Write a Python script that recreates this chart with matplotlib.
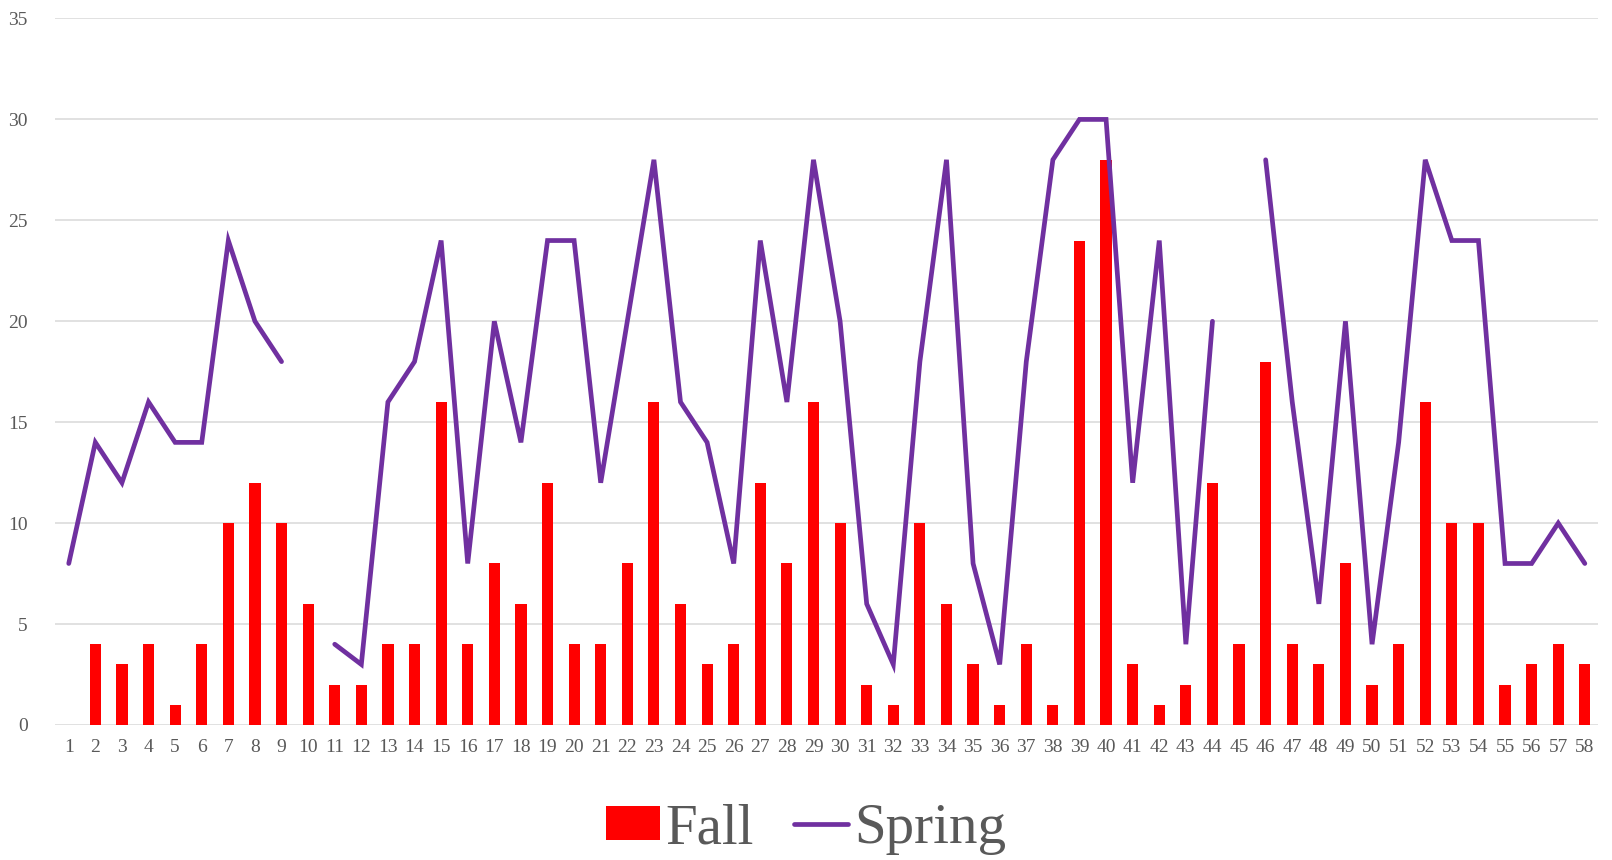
import matplotlib.pyplot as plt
import numpy as np

# Weeks 1..58, Fall counts as bars, Spring counts as a line (gaps where missing)
weeks = list(range(1, 59))
fall = [0, 4, 3, 4, 1, 4, 10, 12, 10, 6,
        2, 2, 4, 4, 16, 4, 8, 6, 12, 4,
        4, 8, 16, 6, 3, 4, 12, 8, 16, 10,
        2, 1, 10, 6, 3, 1, 4, 1, 24, 28,
        3, 1, 2, 12, 4, 18, 4, 3, 8, 2,
        4, 16, 10, 10, 2, 3, 4, 3]
spring = [8, 14, 12, 16, 14, 14, 24, 20, 18, np.nan,
          4, 3, 16, 18, 24, 8, 20, 14, 24, 24,
          12, 20, 28, 16, 14, 8, 24, 16, 28, 20,
          6, 3, 18, 28, 8, 3, 18, 28, 30, 30,
          12, 24, 4, 20, np.nan, 28, 16, 6, 20, 4,
          14, 28, 24, 24, 8, 8, 10, 8]

plt.rcParams['font.family'] = ['Liberation Serif', 'DejaVu Serif']

fig = plt.figure(figsize=(16.12, 8.6), dpi=100)
ax = fig.add_axes([0.0344, 0.157, 0.957, 0.8215])

x = np.arange(len(weeks))
bars = ax.bar(x, fall, width=0.42, color='#FF0000', label='Fall', zorder=2)
line, = ax.plot(x, spring, color='#7030A0', lw=3.4, label='Spring', zorder=3,
                solid_capstyle='round', solid_joinstyle='miter')

ax.set_xlim(-0.5, len(weeks) - 0.5)
ax.set_ylim(0, 35)
ax.set_yticks(range(0, 36, 5))
ax.set_xticks(x)
ax.set_xticklabels([str(w) for w in weeks])

ax.grid(axis='y', color='#D9D9D9', lw=1.1, zorder=0)
ax.set_axisbelow(True)
for s in ax.spines.values():
    s.set_visible(False)
ax.tick_params(length=0, labelsize=14, colors='#595959', pad=10)
ax.tick_params(axis='y', pad=20)

leg = fig.legend([bars, line], ['Fall', 'Spring'], loc='center',
                 bbox_to_anchor=(0.5, 0.036), ncol=2, frameon=False,
                 fontsize=41, handlelength=0.95, handleheight=0.55,
                 handletextpad=0.1, columnspacing=0.7)
for t in leg.get_texts():
    t.set_color('#595959')

fig.savefig('out.png', dpi=100)
